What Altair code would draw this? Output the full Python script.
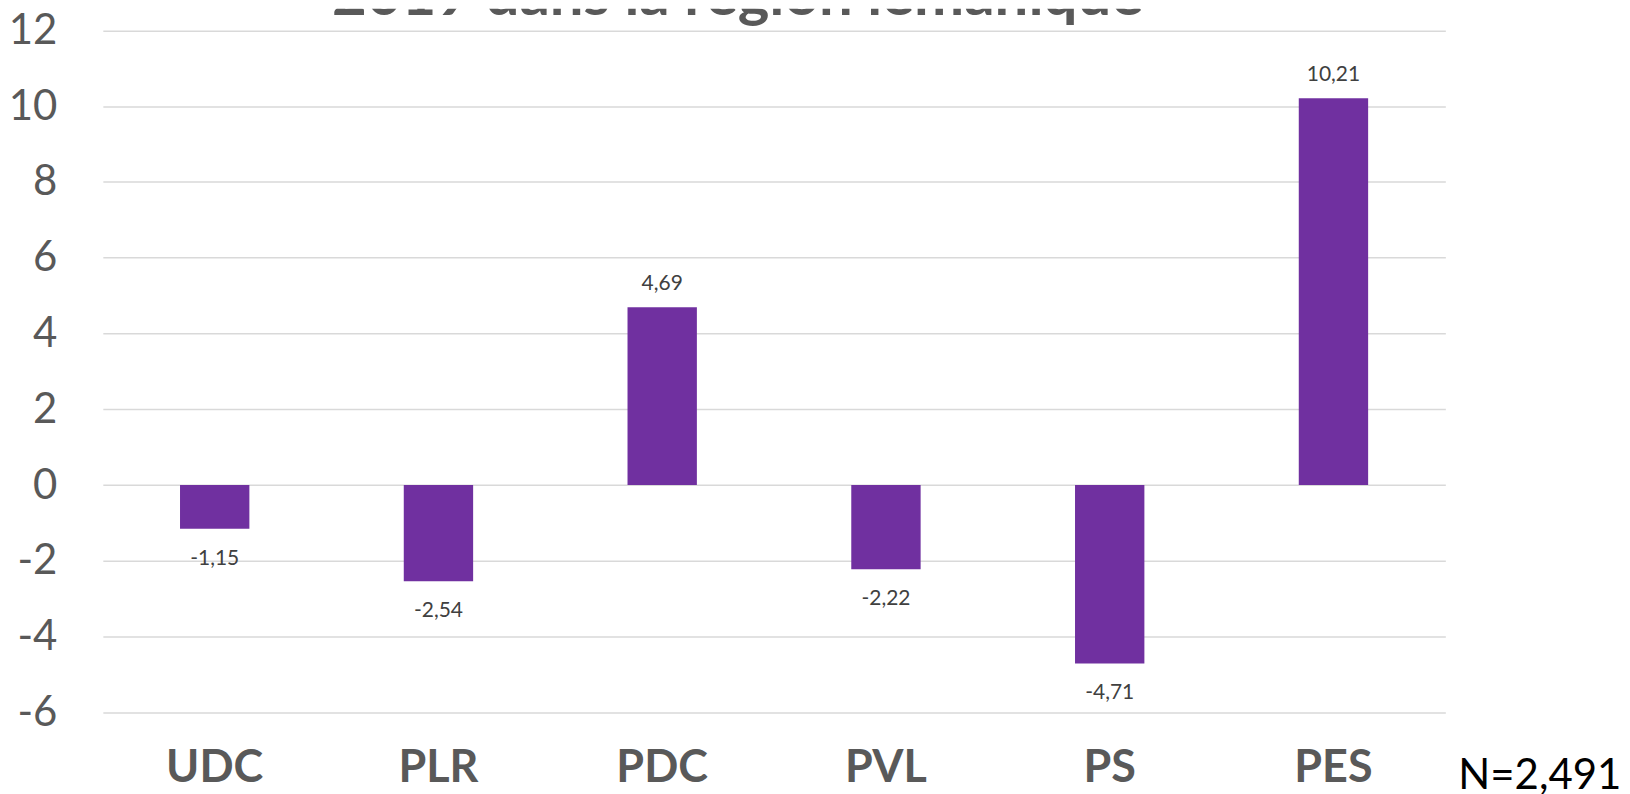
import altair as alt
import pandas as pd

parties = ["UDC", "PLR", "PDC", "PVL", "PS", "PES"]
values = [-1.15, -2.54, 4.69, -2.22, -4.71, 10.21]
y_ticks = [-6, -4, -2, 0, 2, 4, 6, 8, 10, 12]
title_text = "2019 dans la région lémanique"
note_text = "N=2,491"

df = pd.DataFrame({
    "party": parties,
    "value": values,
    "label": [f"{v:.2f}".replace(".", ",") for v in values],
})

W, H = 1345, 705
FONT = "Lato"
GRAY = "#595959"

x_enc = alt.X(
    "party:N", sort=parties, title=None,
    scale=alt.Scale(paddingInner=0.69, paddingOuter=0.345),
    axis=alt.Axis(labelAngle=0, labelFont=FONT, labelFontWeight="bold",
                  labelFontSize=45, labelColor=GRAY, domain=False, ticks=False,
                  tickSize=0, labelPadding=69, labelBaseline="alphabetic", grid=False),
)
y_scale = alt.Scale(domain=[-6, 12.57], nice=False)
y_enc = alt.Y(
    "value:Q", title=None, scale=y_scale,
    axis=alt.Axis(values=y_ticks, labelExpr="'' + datum.value", labelFont=FONT,
                  labelFontSize=42, labelColor=GRAY, domain=False, ticks=False,
                  tickSize=0, labelPadding=46, gridColor="#D9D9D9", gridWidth=1.5),
)

base = alt.Chart(df)

bars = base.mark_bar(color="#7030A0").encode(x=x_enc, y=y_enc, y2=alt.datum(0))

pos_labels = base.transform_filter("datum.value >= 0").mark_text(
    font=FONT, fontSize=21, color="#404040", baseline="alphabetic", dy=-17
).encode(x=alt.X("party:N", sort=parties), y=alt.Y("value:Q", scale=y_scale), text="label:N")

neg_labels = base.transform_filter("datum.value < 0").mark_text(
    font=FONT, fontSize=21, color="#404040", baseline="alphabetic", dy=36
).encode(x=alt.X("party:N", sort=parties), y=alt.Y("value:Q", scale=y_scale), text="label:N")

title = alt.Chart(pd.DataFrame({"t": [title_text]})).mark_text(
    font=FONT, fontSize=60, fontWeight="bold", color=GRAY, baseline="alphabetic",
    align="center", clip=True
).encode(x=alt.value(636), y=alt.value(6), text="t:N")

note = alt.Chart(pd.DataFrame({"t": [note_text]})).mark_text(
    font=FONT, fontSize=42, color="#000000", baseline="alphabetic", align="left"
).encode(x=alt.value(1358), y=alt.value(782), text="t:N")

chart = alt.layer(bars, pos_labels, neg_labels, title, note).properties(
    width=W, height=H, padding={"left": 0, "top": 0, "right": 0, "bottom": 0}
).configure_view(stroke=None)

chart.save("out.html", embed_options={"renderer": "svg", "actions": False})
